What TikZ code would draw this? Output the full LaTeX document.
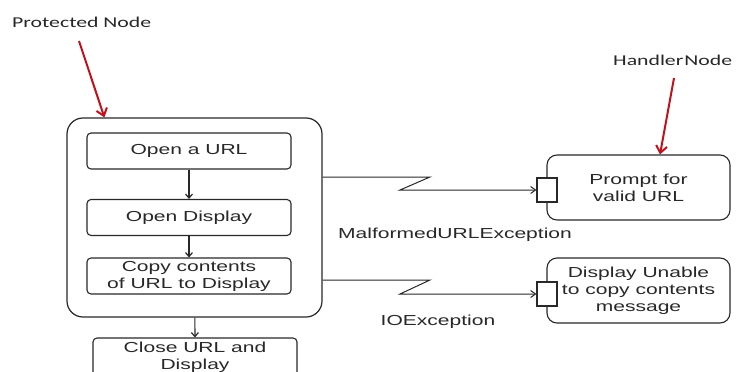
\documentclass[tikz,border=0pt]{standalone}
\usepackage{fontspec}
\setmainfont{Liberation Sans}[FakeStretch=1.45]
\newfontfamily\calibfont{Carlito}[FakeStretch=1.45]
\usetikzlibrary{arrows.meta}
\definecolor{pointred}{RGB}{190,18,28}
\definecolor{inkgray}{RGB}{40,40,40}

\begin{document}
\begin{tikzpicture}[x=1pt,y=-1pt,
  every node/.style={font=\fontsize{14.5}{17}\selectfont, text=inkgray},
  stepbox/.style={draw=inkgray, line width=1.1pt, rounded corners=4pt,
    minimum width=204pt, minimum height=36pt, inner sep=0pt, align=center},
  handlerbox/.style={draw=inkgray, line width=1.1pt, rounded corners=10pt, fill=white,
    minimum width=183pt, minimum height=65pt, inner sep=0pt, align=center},
  portbox/.style={draw=inkgray, line width=1.1pt, fill=white,
    minimum width=20pt, minimum height=24pt, inner sep=0pt},
  flow/.style={draw=inkgray, line width=1.2pt, -{Straight Barb[length=4pt,width=7pt]}},
  excflow/.style={draw=inkgray, line width=1pt, -{Straight Barb[length=5pt,width=7pt]}},
  pointer/.style={draw=pointred, line width=2pt, -{Straight Barb[length=7pt,width=11pt]}},
  callout/.style={font=\calibfont\fontsize{15}{17}\selectfont, text=inkgray, anchor=west, inner sep=0pt}]
\useasboundingbox[fill=white] (0,0) rectangle (736,372);
\clip (0,0) rectangle (736,372);

\node[draw=inkgray, line width=1.2pt, rounded corners=16pt, minimum width=255pt,
  minimum height=199pt] (protected) at (194.5,217.5) {};
\node[stepbox] (openurl) at (189,151) {Open a URL};
\node[stepbox] (opendisp) at (189,217.5) {Open Display};
\node[stepbox] (copy) at (189,276) {Copy contents\\of URL to Display};
\node[stepbox, minimum height=38pt] (close) at (195,357) {Close URL and\\Display};
\draw[flow] (openurl) -- (opendisp);
\draw[flow] (opendisp) -- (copy);
\draw[flow] (protected) -- (close);

\node[handlerbox] (prompt) at (638.5,187.5) {Prompt for\\valid URL};
\node[handlerbox] (unable) at (638.5,290.5) {Display Unable\\to copy contents\\message};
\node[portbox] (port1) at (547,190) {};
\node[portbox] (port2) at (547,294) {};

\coordinate (zig1a) at (430,177);
\coordinate (zig1b) at (400,190);
\coordinate (zig2a) at (430,280);
\coordinate (zig2b) at (400,294);
\draw[excflow] (protected.east |- zig1a) -- (zig1a) -- (zig1b) -- (port1.west);
\draw[excflow] (protected.east |- zig2a) -- (zig2a) -- (zig2b) -- (port2.west);
\node (malformed) at (455,235) {MalformedURLException};
\node (ioexc) at (438,322) {IOException};

\node[callout] (protlabel) at (12,22) {Protected Node};
\node[callout] (handlabel) at (613,60) {Handler\hspace{1pt}Node};
\coordinate (prottail) at (79,41);
\coordinate (handtail) at (674,78);
\draw[pointer] (prottail) -- ([xshift=38pt]protected.north west);
\draw[pointer] (handtail) -- ([xshift=21.5pt]prompt.north);
\end{tikzpicture}
\end{document}
